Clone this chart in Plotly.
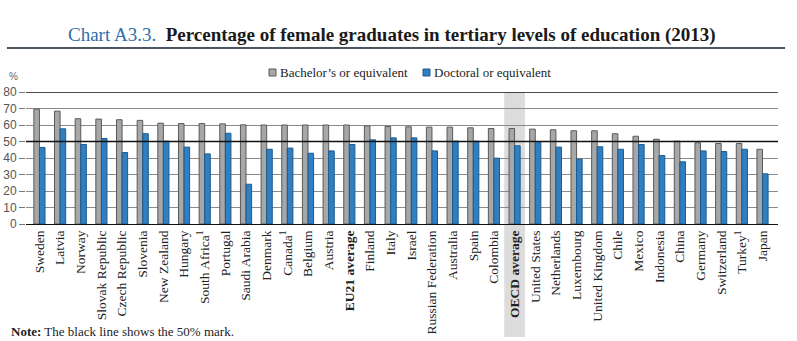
import plotly.graph_objects as go

countries = ["Sweden", "Latvia", "Norway", "Slovak Republic", "Czech Republic", "Slovenia",
             "New Zealand", "Hungary", "South Africa<sup>1</sup>", "Portugal", "Saudi Arabia",
             "Denmark", "Canada<sup>1</sup>", "Belgium", "Austria", "<b>EU21 average</b>", "Finland",
             "Italy", "Israel", "Russian Federation", "Australia", "Spain", "Colombia",
             "<b>OECD average</b>", "United States", "Netherlands", "Luxembourg", "United Kingdom",
             "Chile", "Mexico", "Indonesia", "China", "Germany", "Switzerland",
             "Turkey<sup>1</sup>", "Japan"]

bachelor = [69.6, 68.4, 63.8, 63.6, 63.2, 62.8, 61.1, 60.9, 60.9, 60.7, 60.1,
            60.0, 60.0, 60.0, 60.0, 60.0, 59.5, 59.1, 58.9, 58.7, 58.7, 58.3, 57.9,
            57.9, 57.5, 57.1, 56.5, 56.5, 54.7, 53.2, 51.4, 50.2, 49.2, 48.8, 48.8, 45.3]

doctoral = [46.4, 57.7, 48.2, 51.8, 43.3, 54.7, 50.2, 46.6, 42.5, 55.0, 24.1,
            45.3, 46.0, 42.9, 44.3, 48.2, 51.0, 52.2, 52.2, 44.3, 50.2, 50.2, 39.9,
            47.4, 50.0, 46.6, 39.3, 46.8, 45.3, 48.2, 41.5, 37.7, 44.3, 43.9, 45.3, 30.4]

y_ticks = [0, 10, 20, 30, 40, 50, 60, 70, 80]
highlight = "<b>OECD average</b>"
series_names = ["Bachelor\u2019s or equivalent", "Doctoral or equivalent"]

SERIF = "Liberation Serif"
SANS = "Liberation Sans"
GRAY, GRAY_LINE = "#a7a7a7", "#5a5a5a"
BLUE, BLUE_LINE = "#2f7fc1", "#1d5a8e"

# pixel helpers for layout-only items (plot area: x 26..778, y 92..224)
L, R, T, B = 26, 19, 92, 117
PW, PH = 797 - L - R, 341 - T - B
px = lambda p: (p - L) / PW
py = lambda p: (T + PH - p) / PH

fig = go.Figure()
fig.add_bar(x=countries, y=bachelor, name=series_names[0], showlegend=False,
            marker=dict(color=GRAY, line=dict(color=GRAY_LINE, width=1)))
fig.add_bar(x=countries, y=doctoral, name=series_names[1], showlegend=False,
            marker=dict(color=BLUE, line=dict(color=BLUE_LINE, width=1)))

hi = countries.index(highlight)
fig.add_shape(type="rect", xref="x", yref="paper", x0=hi - 0.5, x1=hi + 0.5,
              y0=py(337), y1=1.0, fillcolor="#dcdcdc", line=dict(width=0), layer="below")
for v in (50, 80):
    fig.add_shape(type="line", xref="paper", yref="y", x0=0, x1=1, y0=v, y1=v,
                  line=dict(color="#111111", width=1.3), layer="above")

# title rule
fig.add_shape(type="line", xref="paper", yref="paper", x0=px(7), x1=px(785),
              y0=py(48), y1=py(48), line=dict(color="#4a5560", width=2))

# custom legend
for (sx, tx), name, fc, lc in zip([(269, 278), (423, 432)], series_names,
                                  [GRAY, BLUE], [GRAY_LINE, BLUE_LINE]):
    fig.add_shape(type="rect", xref="paper", yref="paper", x0=px(sx), x1=px(sx + 7),
                  y0=py(76), y1=py(69), fillcolor=fc, line=dict(color=lc, width=1))
    fig.add_annotation(xref="paper", yref="paper", x=px(tx), y=py(72.5),
                       xanchor="left", yanchor="middle", showarrow=False, text=name,
                       font=dict(family=SERIF, size=13, color="#222222"))

fig.add_annotation(xref="paper", yref="paper", x=px(392), y=py(35),
                   xanchor="center", yanchor="middle", showarrow=False,
                   text="<span style='color:#2d6ea8'>Chart A3.3.</span>  "
                        "<b>Percentage of female graduates in tertiary levels of education (2013)</b>",
                   font=dict(family=SERIF, size=19, color="#1a1a1a"))
fig.add_annotation(xref="paper", yref="paper", x=px(13), y=py(76),
                   xanchor="center", yanchor="middle", showarrow=False,
                   text="%", font=dict(family=SANS, size=10, color="#666666"))
fig.add_annotation(xref="paper", yref="paper", x=px(9), y=py(331),
                   xanchor="left", yanchor="middle", showarrow=False,
                   text="<b>Note:</b> The black line shows the 50% mark.",
                   font=dict(family=SERIF, size=13, color="#222222"))

fig.update_layout(
    width=797, height=341,
    margin=dict(l=L, r=R, t=T, b=B),
    paper_bgcolor="white", plot_bgcolor="white",
    barmode="group", bargap=0.46, bargroupgap=0.0,
    showlegend=False,
    xaxis=dict(range=[-0.65, 35.75], tickangle=-90, showgrid=False, automargin=False,
               tickfont=dict(family=SERIF, size=13.5, color="#222222"),
               showline=True, linecolor="#111111", linewidth=1.3, ticks=""),
    yaxis=dict(range=[0, 80], tickvals=y_ticks, showgrid=True, gridcolor="#8a8a8a",
               gridwidth=1, zeroline=False, automargin=False,
               tickfont=dict(family=SANS, size=12, color="#555555"),
               ticks="outside", ticklen=6, tickcolor="#777777", showline=False),
)

fig.write_html("out.html")
